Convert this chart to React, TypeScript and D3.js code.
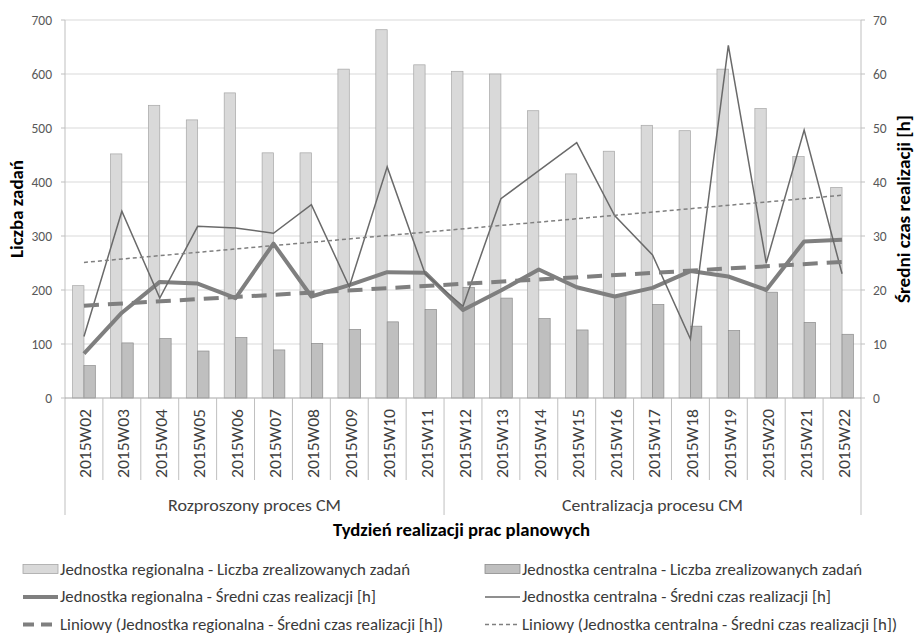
import React from 'react';
import * as d3 from 'd3';

const categories = ['2015W02','2015W03','2015W04','2015W05','2015W06','2015W07','2015W08','2015W09','2015W10','2015W11','2015W12','2015W13','2015W14','2015W15','2015W16','2015W17','2015W18','2015W19','2015W20','2015W21','2015W22'];
const groupLabels = ['Rozproszony proces CM', 'Centralizacja procesu CM'];
const groupSizes = [10, 11];
const regionalCount = [208,452,542,515,565,454,454,609,682,617,605,600,532,415,457,505,495,609,536,447,390];
const centralCount = [60,102,110,87,112,89,101,127,141,164,205,185,147,126,190,173,133,125,196,140,118];
const regionalTime = [8.2,15.8,21.5,21.2,18.5,28.6,18.8,20.9,23.3,23.2,16.3,19.9,23.8,20.5,18.8,20.4,23.5,22.5,20.0,29.0,29.3];
const centralTime = [11.4,34.6,18.5,31.8,31.5,30.5,35.8,20.6,42.8,23.0,17.0,36.9,42.1,47.3,33.8,26.5,10.9,65.3,25.0,49.6,23.0];
const leftTicks = [0,100,200,300,400,500,600,700];
const rightTicks = [0,10,20,30,40,50,60,70];
const legendLabels = [
  'Jednostka regionalna - Liczba zrealizowanych zadań',
  'Jednostka centralna - Liczba zrealizowanych zadań',
  'Jednostka regionalna - Średni czas realizacji [h]',
  'Jednostka centralna - Średni czas realizacji [h]',
  'Liniowy (Jednostka regionalna - Średni czas realizacji [h])',
  'Liniowy (Jednostka centralna - Średni czas realizacji [h])',
];
const leftTitle = 'Liczba zadań';
const rightTitle = 'Średni czas realizacji [h]';
const bottomTitle = 'Tydzień realizacji prac planowych';

const FONT = "Carlito, Calibri, Lato, 'Open Sans', sans-serif";

function linreg(v: number[]) {
  const n = v.length;
  const xs = v.map((_, i) => i);
  const mx = d3.mean(xs) as number;
  const my = d3.mean(v) as number;
  let num = 0, den = 0;
  for (let i = 0; i < n; i++) { num += (i - mx) * (v[i] - my); den += (i - mx) ** 2; }
  const b = num / den;
  return (i: number) => my + b * (i - mx);
}

export default function App() {
  const W = 916, H = 634;
  const L = 65, R = 861, T = 20, B = 398;
  const x = d3.scaleBand<string>().domain(categories).range([L, R]).paddingInner(0).paddingOuter(0);
  const yL = d3.scaleLinear().domain([0, 700]).range([B, T]);
  const yR = d3.scaleLinear().domain([0, 70]).range([B, T]);
  const bw = x.bandwidth();
  const barW = bw * 0.3;
  const cx = (c: string) => (x(c) as number) + bw / 2;

  const line = d3.line<number>().x((_, i) => cx(categories[i])).y(d => yR(d));
  const trR = linreg(regionalTime);
  const trC = linreg(centralTime);
  const last = categories.length - 1;
  const trendPath = (f: (i: number) => number) =>
    d3.line<number>().x(i => cx(categories[i])).y(i => yR(f(i)))([0, last]) as string;

  const axisColor = '#bfbfbf';
  const gridColor = '#d9d9d9';
  const lightFill = '#d9d9d9', lightStroke = '#a6a6a6';
  const darkFill = '#bfbfbf', darkStroke = '#8c8c8c';
  const lineColor = '#7f7f7f';
  const thinColor = '#6a6a6a';

  // group boundaries
  const groupBounds: number[] = [0];
  groupSizes.forEach(s => groupBounds.push(groupBounds[groupBounds.length - 1] + s));

  const legendRows = [569.5, 597, 624.5];
  const legendCols = [{ sx: 23, tx: 60 }, { sx: 485, tx: 522 }];
  const legendWidths = [350, 340, 316, 309, 383, 375];

  const swatch = (k: number, sx: number, yc: number) => {
    const w = 35;
    if (k === 0) return <rect x={sx} y={yc - 5} width={w} height={9} fill={lightFill} stroke={lightStroke} strokeWidth={0.8} />;
    if (k === 1) return <rect x={sx} y={yc - 5} width={w} height={9} fill={darkFill} stroke={darkStroke} strokeWidth={0.8} />;
    if (k === 2) return <line x1={sx} x2={sx + w} y1={yc} y2={yc} stroke={lineColor} strokeWidth={4} />;
    if (k === 3) return <line x1={sx} x2={sx + w} y1={yc} y2={yc} stroke={thinColor} strokeWidth={1.5} />;
    if (k === 4) return <line x1={sx} x2={sx + w} y1={yc} y2={yc} stroke={lineColor} strokeWidth={4} strokeDasharray="11 7" />;
    return <line x1={sx} x2={sx + w} y1={yc} y2={yc} stroke={lineColor} strokeWidth={1.5} strokeDasharray="4 3" />;
  };

  return (
    <svg width={W} height={H} style={{ position: 'absolute', left: 0, top: 0, background: '#fff' }} fontFamily={FONT}>
      <rect x={0} y={0} width={W} height={H} fill="#fff" />
      {/* gridlines */}
      {leftTicks.filter(t => t > 0).map(t => (
        <line key={'g' + t} x1={L} x2={R} y1={yL(t)} y2={yL(t)} stroke={gridColor} strokeWidth={1} />
      ))}
      {/* bars */}
      {categories.map((c, i) => (
        <g key={'b' + c}>
          <rect x={cx(c) - barW} y={yL(regionalCount[i])} width={barW} height={B - yL(regionalCount[i])} fill={lightFill} stroke={lightStroke} strokeWidth={0.7} />
          <rect x={cx(c)} y={yL(centralCount[i])} width={barW} height={B - yL(centralCount[i])} fill={darkFill} stroke={darkStroke} strokeWidth={0.7} />
        </g>
      ))}
      {/* axes lines */}
      <line x1={L} x2={L} y1={T} y2={515} stroke={axisColor} strokeWidth={1} />
      <line x1={R} x2={R} y1={T} y2={515} stroke={axisColor} strokeWidth={1} />
      <line x1={L} x2={R} y1={B} y2={B} stroke="#a6a6a6" strokeWidth={1} />
      {leftTicks.map(t => (
        <g key={'lt' + t}>
          <line x1={L - 4} x2={L} y1={yL(t)} y2={yL(t)} stroke={axisColor} />
          <text x={52} y={yL(t)} dy="0.35em" textAnchor="end" fontSize={13.5} fill="#595959">{t}</text>
        </g>
      ))}
      {rightTicks.map(t => (
        <g key={'rt' + t}>
          <line x1={R} x2={R + 4} y1={yR(t)} y2={yR(t)} stroke={axisColor} />
          <text x={873} y={yR(t)} dy="0.35em" textAnchor="start" fontSize={13.5} fill="#595959">{t}</text>
        </g>
      ))}
      {/* category separators */}
      {d3.range(1, categories.length).filter(i => !groupBounds.includes(i)).map(i => (
        <line key={'s' + i} x1={L + i * bw} x2={L + i * bw} y1={B} y2={480} stroke={axisColor} />
      ))}
      {groupBounds.slice(1, -1).map(i => (
        <line key={'gs' + i} x1={L + i * bw} x2={L + i * bw} y1={B} y2={515} stroke={axisColor} />
      ))}
      {categories.map(c => (
        <text key={'cl' + c} transform={`translate(${cx(c) + 7.5},409) rotate(-90)`} textAnchor="end" fontSize={16} fill="#404040" textLength={69} lengthAdjust="spacingAndGlyphs">{c}</text>
      ))}
      {groupLabels.map((g, k) => {
        const a = L + groupBounds[k] * bw, b = L + groupBounds[k + 1] * bw;
        return <text key={'gl' + k} x={(a + b) / 2} y={505} dy="0.35em" textAnchor="middle" fontSize={16.5} fill="#404040" textLength={k === 0 ? 173 : 181} lengthAdjust="spacingAndGlyphs">{g}</text>;
      })}
      {/* lines */}
      <path d={line(regionalTime) as string} fill="none" stroke={lineColor} strokeWidth={4} strokeLinejoin="round" />
      <path d={line(centralTime) as string} fill="none" stroke={thinColor} strokeWidth={1.5} strokeLinejoin="miter" />
      <path d={trendPath(trR)} fill="none" stroke={lineColor} strokeWidth={4} strokeDasharray="15 9" />
      <path d={trendPath(trC)} fill="none" stroke={lineColor} strokeWidth={1.5} strokeDasharray="4 3" />
      {/* titles */}
      <text transform={`translate(17.5,209) rotate(-90)`} textAnchor="middle" dy="0.35em" fontSize={17} fontWeight="bold" fill="#000" textLength={98} lengthAdjust="spacingAndGlyphs">{leftTitle}</text>
      <text transform={`translate(904.5,209) rotate(-90)`} textAnchor="middle" dy="0.35em" fontSize={17} fontWeight="bold" fill="#000" textLength={188} lengthAdjust="spacingAndGlyphs">{rightTitle}</text>
      <text x={461.5} y={530} dy="0.35em" textAnchor="middle" fontSize={17} fontWeight="bold" fill="#000" textLength={257} lengthAdjust="spacingAndGlyphs">{bottomTitle}</text>
      {/* legend */}
      {legendLabels.map((lab, k) => {
        const col = legendCols[k % 2];
        const yc = legendRows[Math.floor(k / 2)];
        return (
          <g key={'lg' + k}>
            {swatch(k, col.sx, yc)}
            <text x={col.tx} y={yc} dy="0.35em" fontSize={15.5} fill="#3a3a3a" textLength={legendWidths[k]} lengthAdjust="spacingAndGlyphs">{lab}</text>
          </g>
        );
      })}
    </svg>
  );
}
